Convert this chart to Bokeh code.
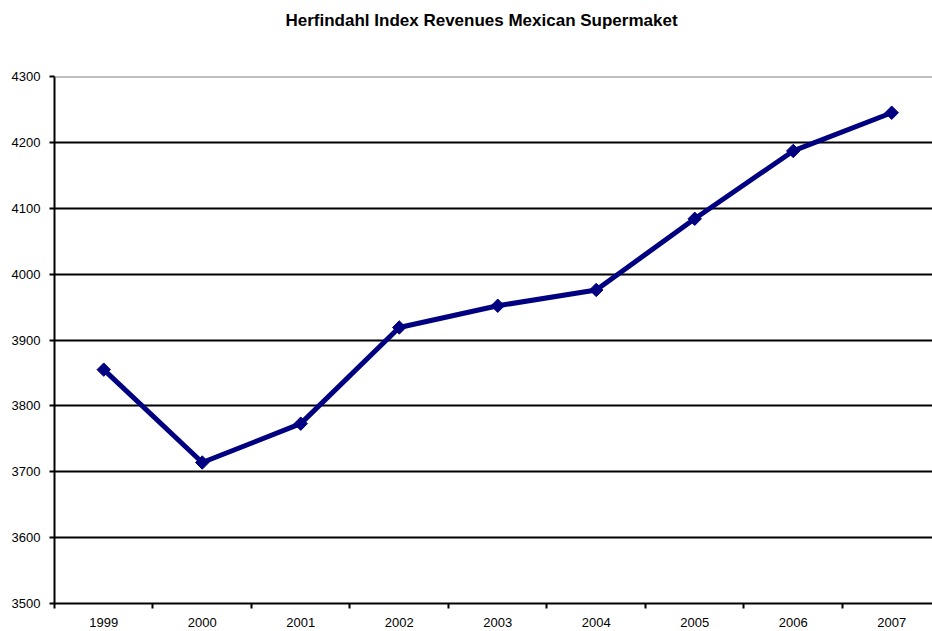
import math
from bokeh.plotting import figure
from bokeh.models import FixedTicker, Range1d, Span
from bokeh.embed import file_html
from bokeh.resources import INLINE

title_text = "Herfindahl Index Revenues Mexican Supermaket"
years = ["1999", "2000", "2001", "2002", "2003", "2004", "2005", "2006", "2007"]
values = [3855, 3714, 3773, 3919, 3952, 3976, 4084, 4187, 4245]
y_ticks = [3500, 3600, 3700, 3800, 3900, 4000, 4100, 4200, 4300]

xs = list(range(len(years)))

p = figure(width=932, height=631, output_backend="svg", toolbar_location=None,
           x_range=Range1d(-0.5, 8.414), y_range=Range1d(3500, 4300),
           min_border_left=54, min_border_right=0, min_border_bottom=28, min_border_top=76)

# two blank lines below the title text push it to the top of the border area
p.title.text = title_text + "\n \n "
p.title.align = "left"
p.title.offset = 231
p.title.vertical_align = "top"
p.title.standoff = 13
p.title.text_font = "Liberation Sans"
p.title.text_font_size = "17px"
p.title.text_font_style = "bold"
p.title.text_color = "black"

p.outline_line_color = None
p.background_fill_color = "white"
p.border_fill_color = "white"

# x axis
p.xaxis.ticker = FixedTicker(ticks=xs, minor_ticks=[i - 0.5 for i in range(len(years) + 1)])
p.xaxis.major_label_overrides = {i: y for i, y in enumerate(years)}
p.xaxis.major_tick_line_color = None
p.xaxis.minor_tick_in = 0
p.xaxis.minor_tick_out = 5
p.xaxis.minor_tick_line_color = "black"
p.xaxis.minor_tick_line_width = 2
p.xaxis.axis_line_color = "black"
p.xaxis.axis_line_width = 2
p.xaxis.major_label_text_font = "Liberation Sans"
p.xaxis.major_label_text_font_size = "13px"
p.xaxis.major_label_standoff = 8
p.xaxis.major_label_text_color = "black"

# y axis
p.yaxis.ticker = FixedTicker(ticks=y_ticks)
p.yaxis.minor_tick_line_color = None
p.yaxis.major_tick_in = 0
p.yaxis.major_tick_out = 5
p.yaxis.major_tick_line_width = 2
p.yaxis.major_tick_line_color = "black"
p.yaxis.axis_line_color = "black"
p.yaxis.axis_line_width = 2
p.yaxis.major_label_text_font = "Liberation Sans"
p.yaxis.major_label_text_font_size = "13px"
p.yaxis.major_label_standoff = 9
p.yaxis.major_label_text_color = "black"

p.xgrid.grid_line_color = None
p.ygrid.ticker = FixedTicker(ticks=y_ticks[1:-1])
p.ygrid.grid_line_color = "black"
p.ygrid.grid_line_width = 2

p.add_layout(Span(location=y_ticks[-1], dimension="width", line_color="#808080", line_width=2))

p.line(xs, values, line_color="#000080", line_width=5)
p.scatter(xs, values, marker="square", angle=math.pi / 4, size=9.5,
          fill_color="#000080", line_color="#000080", line_width=1)

open("out.html", "w").write(file_html(p, INLINE))
